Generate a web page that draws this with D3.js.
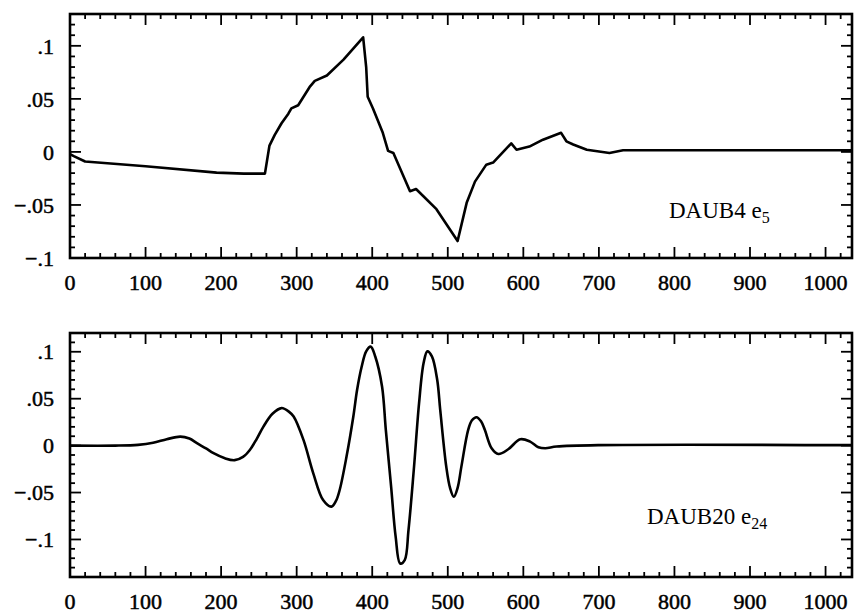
<!DOCTYPE html>
<html>
<head>
<meta charset="utf-8">
<script src="https://cdn.jsdelivr.net/npm/d3@7"></script>
<style>
  body { margin: 0; background: #fff; }
  svg { display: block; }
  text { font-family: "Liberation Serif", "Times New Roman", serif; fill: #000; }
</style>
</head>
<body>
<div id="chart"></div>
<script>
const width = 857;
const height = 614;

// --- data ---
// DAUB4 e5 : index / value
const daub4X = [0, 5, 20, 100, 194, 230, 258, 264, 271, 280, 289, 293, 302, 317, 324, 340, 362, 388,
                392, 394, 401, 414, 421, 428, 450, 458, 485, 513, 525, 536, 551, 560, 584, 591,
                608, 626, 650, 657, 666, 684, 714, 732, 760, 1035];
const daub4Y = [-0.002, -0.004, -0.009, -0.0135, -0.0195, -0.0205, -0.0205, 0.006, 0.016, 0.027, 0.036, 0.041, 0.044, 0.061, 0.067, 0.072, 0.087, 0.108,
                0.080, 0.052, 0.041, 0.018, 0.001, -0.001, -0.037, -0.035, -0.054, -0.084, -0.048, -0.028, -0.012, -0.010, 0.008, 0.002,
                0.005, 0.0115, 0.018, 0.010, 0.007, 0.002, -0.001, 0.0015, 0.0015, 0.0015];

// DAUB20 e24
const daub20X = [0, 60, 90, 110, 128, 146, 158, 168, 180, 190, 205, 218, 229, 238, 247, 256, 268, 280, 290, 296,
                 309, 322, 335, 346, 352, 357, 366, 375, 380, 386, 392, 398, 404, 413, 418, 425, 431, 437, 443, 448,
                 455, 462, 468, 473, 479, 486, 490, 498, 503, 508, 513, 518, 527, 532, 538, 544, 549, 558, 567, 580,
                 596, 609, 620, 629, 644, 700, 1035];
const daub20Y = [0, 0, 0.0008, 0.003, 0.0068, 0.0096, 0.0075, 0.0026, -0.003, -0.0081, -0.0135, -0.0155, -0.012, -0.0046, 0.007, 0.0203, 0.034, 0.040, 0.036, 0.031,
                 0.0061, -0.0295, -0.058, -0.065, -0.059, -0.047, -0.0117, 0.031, 0.0595, 0.084, 0.1004, 0.1055, 0.095, 0.063, 0.0168, -0.0438, -0.097, -0.1256, -0.122, -0.09,
                 -0.026, 0.0453, 0.088, 0.1004, 0.095, 0.0702, 0.038, -0.0224, -0.045, -0.0545, -0.045, -0.0224, 0.0168, 0.027, 0.0303, 0.026, 0.0168, -0.0028, -0.0089, -0.0039,
                 0.0068, 0.0043, -0.0017, -0.0028, -0.001, 0.0005, 0.0005];

const xTicks = [0, 100, 200, 300, 400, 500, 600, 700, 800, 900, 1000];
const xDomain = [0, 1035];

const topYTicks = [0.1, 0.05, 0, -0.05, -0.1];
const topYLabels = [".1", ".05", "0", "\u2212.05", "\u2212.1"];
const bottomYTicks = [0.1, 0.05, 0, -0.05, -0.1];
const bottomYLabels = [".1", ".05", "0", "\u2212.05", "\u2212.1"];

const svg = d3.select("#chart")
    .append("svg")
    .attr("width", width)
    .attr("height", height);

function drawPanel(cfg) {
    const x = d3.scaleLinear().domain(xDomain).range([cfg.left, cfg.right]);
    const y = d3.scaleLinear().domain(cfg.yDomain).range([cfg.bottom, cfg.top]);
    const g = svg.append("g");

    // minor + major ticks, mirrored on all four sides, pointing in
    const xMinor = d3.range(0, xDomain[1] + 1, 20);
    const yMinor = d3.range(Math.ceil(cfg.yDomain[0] * 100), Math.floor(cfg.yDomain[1] * 100) + 1).map(d => d / 100);

    const tickG = g.append("g").attr("stroke", "#000").attr("stroke-width", 1.8);
    xMinor.forEach(v => {
        const major = xTicks.includes(v);
        const len = major ? 11 : 5;
        tickG.append("line").attr("x1", x(v)).attr("x2", x(v)).attr("y1", cfg.bottom).attr("y2", cfg.bottom - len);
        tickG.append("line").attr("x1", x(v)).attr("x2", x(v)).attr("y1", cfg.top).attr("y2", cfg.top + len);
    });
    yMinor.forEach(v => {
        const major = Math.abs(Math.round(v * 100) % 5) === 0;
        const len = major ? 11 : 5;
        tickG.append("line").attr("x1", cfg.left).attr("x2", cfg.left + len).attr("y1", y(v)).attr("y2", y(v));
        tickG.append("line").attr("x1", cfg.right).attr("x2", cfg.right - len).attr("y1", y(v)).attr("y2", y(v));
    });

    // frame
    g.append("rect")
        .attr("x", cfg.left)
        .attr("y", cfg.top)
        .attr("width", cfg.right - cfg.left)
        .attr("height", cfg.bottom - cfg.top)
        .attr("fill", "none")
        .attr("stroke", "#000")
        .attr("stroke-width", 2.6);

    // tick labels
    g.selectAll(".xlab")
        .data(xTicks)
        .enter()
        .append("text")
        .attr("x", d => x(d))
        .attr("y", cfg.bottom + 32)
        .attr("text-anchor", "middle")
        .style("font-size", "22px")
        .style("stroke", "#000")
        .style("stroke-width", 0.5)
        .text(d => d);

    g.selectAll(".ylab")
        .data(cfg.yTicks)
        .enter()
        .append("text")
        .attr("x", cfg.left - 16)
        .attr("y", d => y(d))
        .attr("dy", "0.35em")
        .attr("text-anchor", "end")
        .style("font-size", "22px")
        .style("stroke", "#000")
        .style("stroke-width", 0.5)
        .text((d, i) => cfg.yLabels[i]);

    // curve
    const pts = cfg.xs.map((v, i) => [v, cfg.ys[i]]);
    const line = d3.line()
        .x(d => x(d[0]))
        .y(d => y(d[1]))
        .curve(cfg.curve);

    g.append("path")
        .datum(pts)
        .attr("d", line)
        .attr("fill", "none")
        .attr("stroke", "#000")
        .attr("stroke-width", 2.6)
        .attr("stroke-linejoin", "round");

    // label with subscript
    const lab = g.append("text")
        .attr("x", cfg.labelX)
        .attr("y", cfg.labelY)
        .style("font-size", "23px");
    lab.append("tspan").text(cfg.label);
    lab.append("tspan")
        .attr("dy", 5)
        .style("font-size", "16px")
        .text(cfg.sub);
}

drawPanel({
    left: 70, right: 852, top: 14, bottom: 258,
    yDomain: [-0.1, 0.13],
    yTicks: topYTicks, yLabels: topYLabels,
    xs: daub4X, ys: daub4Y,
    curve: d3.curveLinear,
    label: "DAUB4 e", sub: "5",
    labelX: 669, labelY: 218
});

drawPanel({
    left: 70, right: 852, top: 333, bottom: 577,
    yDomain: [-0.14, 0.12],
    yTicks: bottomYTicks, yLabels: bottomYLabels,
    xs: daub20X, ys: daub20Y,
    curve: d3.curveCatmullRom.alpha(0.5),
    label: "DAUB20 e", sub: "24",
    labelX: 647, labelY: 524
});
</script>
</body>
</html>
